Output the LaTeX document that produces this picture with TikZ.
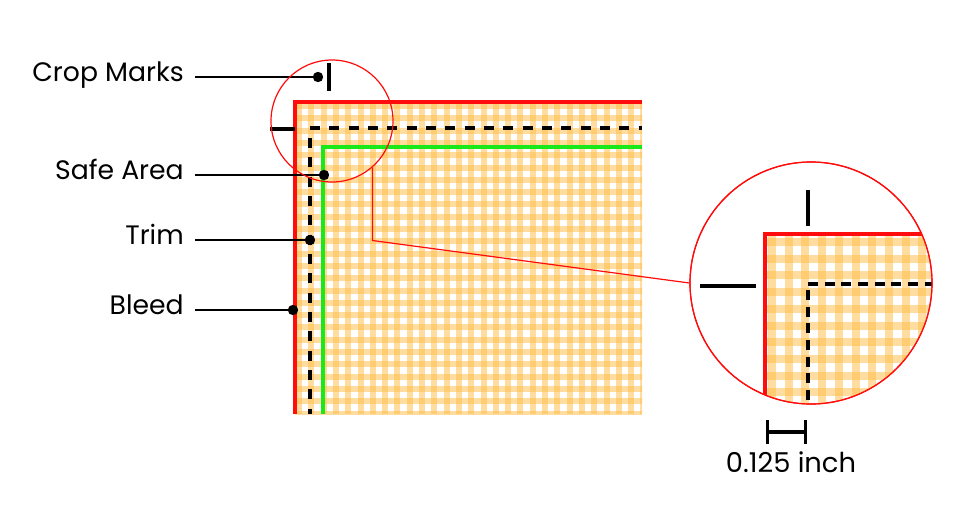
\documentclass[tikz,border=0pt]{standalone}
\usepackage{fontspec}
\setmainfont{Poppins}
\usetikzlibrary{arrows.meta}
\definecolor{bleedred}{RGB}{255,12,12}
\definecolor{safegreen}{RGB}{25,232,25}
\definecolor{checker}{RGB}{255,187,68}
\tikzset{
	lbl/.style={anchor=base east,inner sep=0pt,font=\fontsize{20}{24}\selectfont},
	leader/.style={line width=0.9pt},
	dot/.style={fill=black},
	stripe/.style={fill=checker,fill opacity=0.5},
	bleedline/.style={draw=bleedred,line width=2.8pt},
	safeline/.style={draw=safegreen,line width=2.8pt},
	trimline/.style={line width=2.6pt,dash pattern=on 7.5pt off 7pt},
	cropline/.style={line width=2.5pt},
	lens/.style={circle,draw=bleedred,line width=0.9pt,inner sep=0pt},
}

\begin{document}
\begin{tikzpicture}[x=0.75pt,y=-0.75pt]
	\useasboundingbox (0,0) rectangle (961,522);
	% checked sheet
	\begin{scope}
		\clip (295,102) rectangle (642,414);
		\foreach \k in {0,...,28} \fill[stripe] ({296+\k*12.3},102) rectangle ++(6,312);
		\foreach \k in {0,...,25} \fill[stripe] (295,{103+\k*12.3}) rectangle ++(347,6);
	\end{scope}
	\draw[bleedline] (295,414) -- (295,102) -- (642,102);
	\draw[trimline] (310,128) -- (642,128);
	\draw[trimline] (310,138) -- (310,414);
	\draw[safeline] (323,414) -- (323,147) -- (642,147);
	% crop marks
	\draw[cropline] (329,63) -- (329,91);
	\draw[cropline] (270,129) -- (295,129);
	% labels
	\node[lbl] (croplabel) at (184,81) {Crop Marks};
	\node[lbl] (safelabel) at (184,179) {Safe Area};
	\node[lbl] (trimlabel) at (184,244) {Trim};
	\node[lbl] (bleedlabel) at (184,314) {Bleed};
	\coordinate (cropdot) at (318,77);
	\coordinate (safedot) at (324,175);
	\coordinate (trimdot) at (310,240);
	\coordinate (bleeddot) at (293,310);
	\foreach \l/\d in {croplabel/cropdot,safelabel/safedot,trimlabel/trimdot,bleedlabel/bleeddot}{
		\draw[leader] (\l.east |- \d) ++(11,0) -- (\d);
		\fill[dot] (\d) circle[radius=3.9pt];
	}
	% magnifier
	\node[lens,minimum size=91.5pt] (lenssmall) at (332,121) {};
	\node[lens,minimum size=181.5pt] (lensbig) at (811,283) {};
	\begin{scope}
		\clip (811,283) circle[radius=90.75pt];
		\begin{scope}
			\clip (765,234) rectangle (940,410);
			\foreach \k in {0,...,10} \fill[stripe] ({768+\k*16.7},234) rectangle ++(8,176);
			\foreach \k in {0,...,10} \fill[stripe] (765,{238+\k*16.7}) rectangle ++(175,8);
		\end{scope}
		\draw[bleedline] (765,410) -- (765,234) -- (940,234);
		\draw[line width=2.3pt,dash pattern=on 7.5pt off 5pt] (808,284) -- (940,284);
		\draw[line width=2.3pt,dash pattern=on 7.5pt off 5pt] (808,290) -- (808,410);
	\end{scope}
	\draw[lens] (811,283) circle[radius=90.75pt];
	\draw[cropline] (808,190) -- (808,226);
	\draw[cropline] (700,286) -- (756,286);
	\draw[draw=bleedred,line width=0.9pt] (lenssmall.-49) -- ++(0,73) -- (lensbig.west);
	% bleed size
	\coordinate (dimleft) at (766,432);
	\coordinate (dimright) at (807,432);
	\draw[line width=2.6pt,{Bar[width=18pt]}-{Bar[width=18pt]}] (dimleft) -- (dimright);
	\node[font=\fontsize{20.5}{24}\selectfont] (dimlabel) at (791,462) {0.125 inch};
\end{tikzpicture}
\end{document}
